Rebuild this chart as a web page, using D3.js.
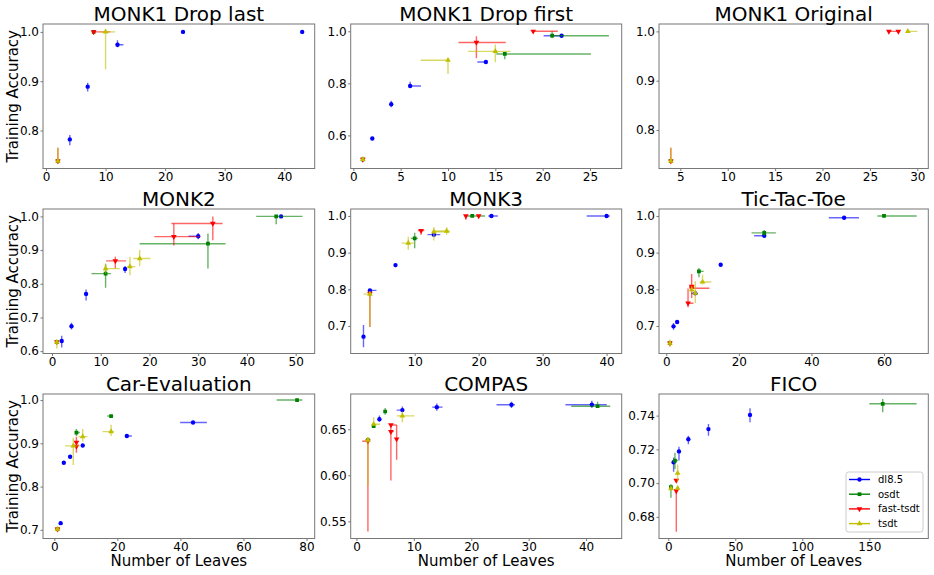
<!DOCTYPE html>
<html><head><meta charset="utf-8">
<script src="https://cdn.jsdelivr.net/npm/d3@7"></script>
<style>body{margin:0;background:#fff} svg{display:block} text{font-family:"DejaVu Sans",sans-serif}</style>
</head><body><svg id="c" width="934" height="575"></svg>
<script>
const methods = ["dl8.5", "osdt", "fast-tsdt", "tsdt"];
const colors = ["#0000ff", "#008000", "#ff0000", "#bfbf00"];
const titles = ["MONK1 Drop last", "MONK1 Drop first", "MONK1 Original", "MONK2", "MONK3", "Tic-Tac-Toe", "Car-Evaluation", "COMPAS", "FICO"];

// rows: [method, leaves, accuracy, xLow, xHigh, yLow, yHigh]
const monk1DropLast = [
  ["dl8.5", 4, 0.782, null, null, 0.770, 0.791],
  ["dl8.5", 7, 0.889, null, null, 0.879, 0.897],
  ["dl8.5", 12, 0.974, 12, 13, 0.969, 0.983],
  ["dl8.5", 23, 1.0],
  ["dl8.5", 43, 1.0],
  ["osdt", 2, 0.738],
  ["osdt", 8, 1.0],
  ["fast-tsdt", 2, 0.738, null, null, 0.736, 0.765],
  ["fast-tsdt", 8, 1.0, 8, 10.8],
  ["tsdt", 2, 0.738, null, null, 0.736, 0.765],
  ["tsdt", 10, 1.0, 9.1, 11.6, 0.924, 1.0]
];
const monk1DropFirst = [
  ["dl8.5", 2, 0.588],
  ["dl8.5", 4, 0.72, null, null, 0.708, 0.733],
  ["dl8.5", 6, 0.79, 6, 7.15, 0.785, 0.806],
  ["dl8.5", 14, 0.882, 13.1, 14],
  ["dl8.5", 22, 0.983, 20.1, 22],
  ["osdt", 1, 0.508],
  ["osdt", 16, 0.913, 15.1, 25.1, 0.893, 0.92],
  ["osdt", 21, 0.983, 21, 27, 0.973, 1.0],
  ["fast-tsdt", 1, 0.508],
  ["fast-tsdt", 13, 0.957, 11.1, 16.1, 0.896, 0.981],
  ["fast-tsdt", 19, 1.0, 19, 21.6],
  ["tsdt", 1, 0.508],
  ["tsdt", 10, 0.889, 7.1, 10, 0.836, 0.889],
  ["tsdt", 15, 0.923, 12.1, 16.6, 0.881, 0.949]
];
const monk1Original = [
  ["osdt", 4, 0.737],
  ["fast-tsdt", 4, 0.737, null, null, 0.735, 0.764],
  ["fast-tsdt", 27, 1.0, 27, 28],
  ["fast-tsdt", 28, 1.0],
  ["tsdt", 4, 0.737, null, null, 0.735, 0.764],
  ["tsdt", 29, 1.0, 29, 30]
];
const monk2 = [
  ["dl8.5", 2, 0.63, null, null, 0.611, 0.646],
  ["dl8.5", 4, 0.674, null, null, 0.664, 0.684],
  ["dl8.5", 7, 0.77, null, null, 0.75, 0.783],
  ["dl8.5", 15, 0.844, null, null, 0.832, 0.853],
  ["dl8.5", 30, 0.941, 28, 30, 0.932, 0.951],
  ["dl8.5", 47, 1.0],
  ["osdt", 1, 0.627],
  ["osdt", 11, 0.83, 8.1, 12.1, 0.788, 0.858],
  ["osdt", 32, 0.919, 18, 35.6, 0.845, 0.949],
  ["osdt", 46, 1.0, 41.9, 51.4, 0.977, 1.0],
  ["fast-tsdt", 1, 0.627],
  ["fast-tsdt", 13, 0.868, 11.1, 15.2, 0.845, 0.88],
  ["fast-tsdt", 25, 0.94, 21, 30.3, 0.914, 0.979],
  ["fast-tsdt", 33, 0.979, 24.5, 35, 0.929, 1.0],
  ["tsdt", 1, 0.627, null, null, 0.608, 0.63],
  ["tsdt", 11, 0.845, 10.7, 13.9, 0.83, 0.86],
  ["tsdt", 16, 0.851, 15.4, 17.1, 0.825, 0.88],
  ["tsdt", 18, 0.875, 16.7, 20.2, 0.853, 0.9]
];
const monk3 = [
  ["dl8.5", 2, 0.671, null, null, 0.642, 0.703],
  ["dl8.5", 3, 0.797, 3, 4.03],
  ["dl8.5", 7, 0.866, null, null, 0.86, 0.87],
  ["dl8.5", 13, 0.949, 12, 14],
  ["dl8.5", 22, 1.0, 21.5, 23],
  ["dl8.5", 40, 1.0, 36.9, 40.5],
  ["osdt", 10, 0.939, 9.4, 10.5, 0.912, 0.954],
  ["osdt", 19, 1.0, 18, 21],
  ["fast-tsdt", 3, 0.789, null, null, 0.697, 0.789],
  ["fast-tsdt", 11, 0.96, 10.5, 11.5, 0.949, 0.96],
  ["fast-tsdt", 18, 1.0, null, null, 0.99, 1.0],
  ["fast-tsdt", 20, 1.0],
  ["tsdt", 3, 0.787, 2, 3, 0.697, 0.787],
  ["tsdt", 9, 0.926, 7.96, 10, 0.908, 0.943],
  ["tsdt", 13, 0.957, 12.7, 15.4, 0.933, 0.97],
  ["tsdt", 15, 0.959, 13, 15.5, 0.949, 0.969]
];
const ticTacToe = [
  ["dl8.5", 2, 0.699, null, null, 0.69, 0.708],
  ["dl8.5", 3, 0.711],
  ["dl8.5", 8, 0.789, 6.9, 8.7],
  ["dl8.5", 15, 0.867],
  ["dl8.5", 27, 0.946, 24.2, 27],
  ["dl8.5", 49, 0.995, 44.8, 53.1],
  ["osdt", 1, 0.653],
  ["osdt", 9, 0.849, 8.5, 10.3, 0.833, 0.858],
  ["osdt", 27, 0.954, 23.5, 30.2, 0.945, 0.962],
  ["osdt", 60, 1.0, 58.2, 69],
  ["fast-tsdt", 1, 0.653],
  ["fast-tsdt", 6, 0.762, 6, 7.5, 0.751, 0.802],
  ["fast-tsdt", 7, 0.808, null, null, 0.776, 0.842],
  ["fast-tsdt", 7, 0.803, 6.4, 11.9],
  ["tsdt", 1, 0.653, null, null, 0.643, 0.663],
  ["tsdt", 7, 0.799, null, null, 0.79, 0.81],
  ["tsdt", 8, 0.79, null, null, 0.763, 0.822],
  ["tsdt", 10, 0.82, 9.2, 12.4, 0.813, 0.84]
];
const carEvaluation = [
  ["dl8.5", 2, 0.7155],
  ["dl8.5", 3, 0.855],
  ["dl8.5", 5, 0.869],
  ["dl8.5", 9, 0.895],
  ["dl8.5", 23, 0.917, 23, 24.6],
  ["dl8.5", 44, 0.948, 39.9, 48.4],
  ["osdt", 1, 0.7016],
  ["osdt", 7, 0.925, 7, 8.1, 0.917, 0.933],
  ["osdt", 18, 0.963, 16.8, 18.7],
  ["osdt", 77, 1.0, 70.5, 78.7],
  ["fast-tsdt", 1, 0.7016, null, null, 0.696, 0.705],
  ["fast-tsdt", 7, 0.902, null, null, 0.878, 0.915],
  ["fast-tsdt", 7, 0.893],
  ["tsdt", 1, 0.7016, null, null, 0.696, 0.705],
  ["tsdt", 6, 0.894, 3.4, 8.1, 0.85, 0.913],
  ["tsdt", 9, 0.9155, 7.6, 10.5, 0.904, 0.933],
  ["tsdt", 18, 0.927, 15.3, 18.9, 0.917, 0.943]
];
const compas = [
  ["dl8.5", 4, 0.661, null, null, 0.658, 0.665],
  ["dl8.5", 8, 0.6708, 7, 8, 0.6686, 0.6748],
  ["dl8.5", 14, 0.674, 13.2, 15, 0.670, 0.678],
  ["dl8.5", 27, 0.6766, 24.4, 27.6, 0.673, 0.68],
  ["dl8.5", 41, 0.6766, 36.4, 43.6, 0.673, 0.681],
  ["osdt", 2, 0.6383, null, null, 0.637, 0.641],
  ["osdt", 3, 0.6533],
  ["osdt", 5, 0.6693, null, null, 0.6657, 0.673],
  ["osdt", 42, 0.675, 37.4, 44.2, 0.674, 0.68],
  ["fast-tsdt", 2, 0.637, 1, 2, 0.539, 0.637],
  ["fast-tsdt", 6, 0.6547, 6, 7, 0.5945, 0.6547],
  ["fast-tsdt", 6, 0.6474, 5.7, 6.5],
  ["fast-tsdt", 7, 0.6394, null, null, 0.617, 0.6547],
  ["tsdt", 2, 0.6383, null, null, 0.589, 0.6383],
  ["tsdt", 3, 0.6555, 3, 4.1, 0.6555, 0.663],
  ["tsdt", 8, 0.6646, 7, 10.1, 0.6577, 0.6693]
];
const fico = [
  ["dl8.5", 4, 0.7124, null, null, 0.7068, 0.7152],
  ["dl8.5", 8, 0.7188, null, null, 0.7134, 0.7216],
  ["dl8.5", 15, 0.726, null, null, 0.723, 0.728],
  ["dl8.5", 30, 0.732, null, null, 0.728, 0.735],
  ["dl8.5", 61, 0.7404, null, null, 0.736, 0.7444],
  ["osdt", 2, 0.6976, null, null, 0.6914, 0.6994],
  ["osdt", 5, 0.7134, 3.8, 7.2, 0.7084, 0.718],
  ["osdt", 160, 0.747, 150, 185.3, 0.742, 0.7498],
  ["fast-tsdt", 6, 0.7016],
  ["fast-tsdt", 6, 0.6954, null, null, 0.6712, 0.6954],
  ["tsdt", 2, 0.6968],
  ["tsdt", 7, 0.706, null, null, 0.701, 0.711],
  ["tsdt", 7, 0.697]
];

const xTicks = [[0,10,20,30,40],[0,5,10,15,20,25],[5,10,15,20,25,30],[0,10,20,30,40,50],[10,20,30,40],[0,20,40,60],[0,20,40,60,80],[0,10,20,30,40],[0,50,100,150]];
const yTicks = [[0.8,0.9,1.0],[0.6,0.8,1.0],[0.8,0.9,1.0],[0.6,0.7,0.8,0.9,1.0],[0.7,0.8,0.9,1.0],[0.7,0.8,0.9,1.0],[0.7,0.8,0.9,1.0],[0.55,0.60,0.65],[0.68,0.70,0.72,0.74]];
const yFormats = [".1f",".1f",".1f",".1f",".1f",".1f",".1f",".2f",".2f"];
const xDomains = [[-0.5,45.1],[-0.28,28.35],[2.75,31.16],[-1.84,53.9],[0.0,42.36],[-2.0,72.2],[-3.6,82.6],[-1.0,46.2],[-6.9,194]];
const yDomains = [[0.723,1.016],[0.473,1.028],[0.722,1.015],[0.593,1.022],[0.625,1.019],[0.625,1.019],[0.68,1.014],[0.5314,0.6883],[0.6672,0.7528]];
const xLabel = "Number of Leaves";
const yLabel = "Training Accuracy";

const panels = [monk1DropLast, monk1DropFirst, monk1Original, monk2, monk3, ticTacToe, carEvaluation, compas, fico];

const svg = d3.select("#c");
const colLeft = [43, 350.7, 659], colW = [271.7, 271, 269.3];
const rowTop = [24, 209, 394], rowH = 144.5;
const color = d3.scaleOrdinal().domain(methods).range(colors);
const symType = {"dl8.5": d3.symbolCircle, "osdt": d3.symbolSquare, "fast-tsdt": d3.symbolTriangle, "tsdt": d3.symbolTriangle};
const symSize = {"dl8.5": 15, "osdt": 14, "fast-tsdt": 14, "tsdt": 14};
const symRot = {"dl8.5": 0, "osdt": 0, "fast-tsdt": 180, "tsdt": 0};

function drawMarker(g, m, cx, cy) {
  g.append("path")
    .attr("d", d3.symbol().type(symType[m]).size(symSize[m])())
    .attr("transform", `translate(${cx},${cy}) rotate(${symRot[m]})`)
    .attr("fill", color(m));
}

panels.forEach((data, i) => {
  const r = Math.floor(i / 3), c = i % 3;
  const x0 = colLeft[c], y0 = rowTop[r], w = colW[c], h = rowH;
  const x = d3.scaleLinear().domain(xDomains[i]).range([x0, x0 + w]);
  const y = d3.scaleLinear().domain(yDomains[i]).range([y0 + h, y0]);
  const g = svg.append("g");

  const xa = d3.axisBottom(x).tickValues(xTicks[i]).tickFormat(d3.format("d")).tickSize(2.5).tickPadding(1);
  const ya = d3.axisLeft(y).tickValues(yTicks[i]).tickFormat(d3.format(yFormats[i])).tickSize(2.5).tickPadding(1.5);
  const gx = g.append("g").attr("transform", `translate(0,${y0 + h})`).call(xa);
  const gy = g.append("g").attr("transform", `translate(${x0},0)`).call(ya);
  [gx, gy].forEach(a => {
    a.select(".domain").remove();
    a.selectAll("line").attr("stroke", "#777");
    a.selectAll("text").attr("fill", "#000").style("font-size", "12px");
  });

  const clipId = "clip" + i;
  svg.append("clipPath").attr("id", clipId).append("rect").attr("x", x0).attr("y", y0).attr("width", w).attr("height", h);
  const pg = g.append("g").attr("clip-path", `url(#${clipId})`);

  methods.forEach(m => {
    const pts = data.filter(d => d[0] === m);
    const eg = pg.append("g").attr("stroke", color(m)).attr("stroke-width", 1.4).attr("stroke-opacity", 0.6);
    pts.forEach(d => {
      if (d[3] != null) eg.append("line").attr("x1", x(d[3])).attr("x2", x(d[4])).attr("y1", y(d[2])).attr("y2", y(d[2]));
      if (d[5] != null) eg.append("line").attr("x1", x(d[1])).attr("x2", x(d[1])).attr("y1", y(d[5])).attr("y2", y(d[6]));
    });
    pts.forEach(d => drawMarker(pg, m, x(d[1]), y(d[2])));
  });

  g.append("rect").attr("x", x0).attr("y", y0).attr("width", w).attr("height", h)
    .attr("fill", "none").attr("stroke", "#777").attr("stroke-width", 1);

  g.append("text").attr("x", x0 + w / 2).attr("y", y0 - 3).attr("text-anchor", "middle")
    .style("font-size", "20px").attr("fill", "#000").text(titles[i]);

  if (c === 0) {
    g.append("text").attr("transform", `translate(18,${y0 + h / 2}) rotate(-90)`).attr("text-anchor", "middle")
      .style("font-size", "15px").attr("fill", "#000").text(yLabel);
  }
  if (r === 2) {
    g.append("text").attr("x", x0 + w / 2).attr("y", 566).attr("text-anchor", "middle")
      .style("font-size", "15px").attr("fill", "#000").text(xLabel);
  }

  if (i === 8) {
    const lg = svg.append("g");
    lg.append("rect").attr("x", 846).attr("y", 472).attr("width", 77).attr("height", 60).attr("rx", 2.5)
      .attr("fill", "#fff").attr("fill-opacity", 0.8).attr("stroke", "#ccc").attr("stroke-width", 1);
    methods.forEach((m, k) => {
      const ly = 479.5 + k * 14.7;
      lg.append("line").attr("x1", 849).attr("x2", 870).attr("y1", ly).attr("y2", ly)
        .attr("stroke", color(m)).attr("stroke-width", 1.4);
      drawMarker(lg, m, 859.5, ly);
      lg.append("text").attr("x", 878).attr("y", ly).attr("dy", "0.35em").style("font-size", "10px")
        .attr("fill", "#000").text(m);
    });
  }
});
</script>
</body></html>
